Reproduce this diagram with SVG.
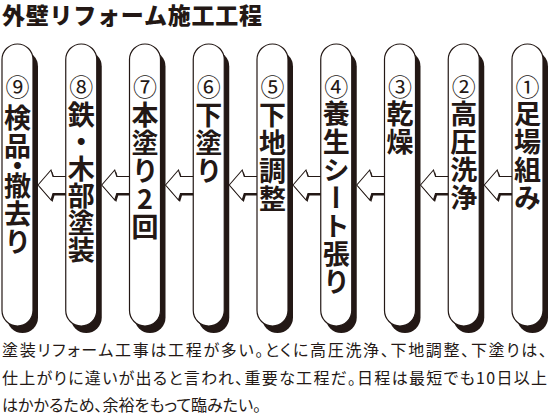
<svg xmlns="http://www.w3.org/2000/svg" xmlns:xlink="http://www.w3.org/1999/xlink" width="549" height="419" viewBox="0 0 549 419">
<style>
.bg{fill:#ffffff}
.shadow{fill:#231815}
.body{fill:#ffffff;stroke:#231815;stroke-width:1.2}
.ashadow{fill:#231815}
.abody{fill:#ffffff;stroke:#231815;stroke-width:1.1;stroke-linejoin:miter}
.num{font-family:"Noto Sans CJK JP","Noto Sans",sans-serif;font-size:24px;font-weight:400;fill:#231815;text-anchor:middle}
.lbl{font-family:"Noto Sans CJK JP","Noto Sans",sans-serif;font-size:27px;font-weight:700;fill:#231815;writing-mode:vertical-rl;text-orientation:upright;letter-spacing:1px}
.title{font-family:"Noto Sans CJK JP","Noto Sans",sans-serif;font-size:23px;font-weight:900;fill:#231815}
.cap{font-family:"Noto Sans CJK JP","Noto Sans",sans-serif;font-size:16px;font-weight:400;fill:#231815;font-feature-settings:"palt"}
</style>
<defs>
<path id="cap" d="M0,15.5 A15.5,15.5 0 0 1 31,15.5 V266.5 A15.5,15.5 0 0 1 0,266.5 Z"/>
<polygon id="arr" points="0,0 13,-15 15,-8.5 33,-8.5 33,8.5 15,8.5 13,15"/>
</defs>
<rect class="bg" x="0" y="0" width="549" height="419"/>
<text class="title" x="2" y="24" textLength="260" lengthAdjust="spacing">外壁リフォーム施工工程</text>

<g id="connectors">
<g transform="translate(38,185)"><use xlink:href="#arr" class="ashadow" transform="translate(1.5,2)"/><use xlink:href="#arr" class="abody"/></g>
<g transform="translate(101.75,185)"><use xlink:href="#arr" class="ashadow" transform="translate(1.5,2)"/><use xlink:href="#arr" class="abody"/></g>
<g transform="translate(165.5,185)"><use xlink:href="#arr" class="ashadow" transform="translate(1.5,2)"/><use xlink:href="#arr" class="abody"/></g>
<g transform="translate(229.25,185)"><use xlink:href="#arr" class="ashadow" transform="translate(1.5,2)"/><use xlink:href="#arr" class="abody"/></g>
<g transform="translate(293,185)"><use xlink:href="#arr" class="ashadow" transform="translate(1.5,2)"/><use xlink:href="#arr" class="abody"/></g>
<g transform="translate(356.75,185)"><use xlink:href="#arr" class="ashadow" transform="translate(1.5,2)"/><use xlink:href="#arr" class="abody"/></g>
<g transform="translate(420.5,185)"><use xlink:href="#arr" class="ashadow" transform="translate(1.5,2)"/><use xlink:href="#arr" class="abody"/></g>
<g transform="translate(484.25,185)"><use xlink:href="#arr" class="ashadow" transform="translate(1.5,2)"/><use xlink:href="#arr" class="abody"/></g>
</g>

<g id="step9" transform="translate(2,44)">
<use xlink:href="#cap" class="shadow" transform="translate(5,7)"/><use xlink:href="#cap" class="body"/>
<text class="num" x="15.5" y="52">⑨</text>
<text class="lbl" x="15.5" y="60">検品<tspan dy="-8">・</tspan><tspan dy="-8">撤</tspan>去り</text>
</g>
<g id="step8" transform="translate(65.75,44)">
<use xlink:href="#cap" class="shadow" transform="translate(5,7)"/><use xlink:href="#cap" class="body"/>
<text class="num" x="15.5" y="52">⑧</text>
<text class="lbl" x="15.5" y="57" style="letter-spacing:0px">鉄・木部塗装</text>
</g>
<g id="step7" transform="translate(129.5,44)">
<use xlink:href="#cap" class="shadow" transform="translate(5,7)"/><use xlink:href="#cap" class="body"/>
<text class="num" x="15.5" y="52">⑦</text>
<text class="lbl" x="15.5" y="57">本塗り2回</text>
</g>
<g id="step6" transform="translate(193.25,44)">
<use xlink:href="#cap" class="shadow" transform="translate(5,7)"/><use xlink:href="#cap" class="body"/>
<text class="num" x="15.5" y="52">⑥</text>
<text class="lbl" x="15.5" y="57">下塗り</text>
</g>
<g id="step5" transform="translate(257,44)">
<use xlink:href="#cap" class="shadow" transform="translate(5,7)"/><use xlink:href="#cap" class="body"/>
<text class="num" x="15.5" y="52">⑤</text>
<text class="lbl" x="15.5" y="57">下地調整</text>
</g>
<g id="step4" transform="translate(320.75,44)">
<use xlink:href="#cap" class="shadow" transform="translate(5,7)"/><use xlink:href="#cap" class="body"/>
<text class="num" x="15.5" y="52">④</text>
<text class="lbl" x="15.5" y="56">養生シート張り</text>
</g>
<g id="step3" transform="translate(384.5,44)">
<use xlink:href="#cap" class="shadow" transform="translate(5,7)"/><use xlink:href="#cap" class="body"/>
<text class="num" x="15.5" y="52">③</text>
<text class="lbl" x="15.5" y="56">乾燥</text>
</g>
<g id="step2" transform="translate(448.25,44)">
<use xlink:href="#cap" class="shadow" transform="translate(5,7)"/><use xlink:href="#cap" class="body"/>
<text class="num" x="15.5" y="52">②</text>
<text class="lbl" x="15.5" y="56">高圧洗浄</text>
</g>
<g id="step1" transform="translate(512,44)">
<use xlink:href="#cap" class="shadow" transform="translate(5,7)"/><use xlink:href="#cap" class="body"/>
<text class="num" x="15.5" y="52">①</text>
<text class="lbl" x="15.5" y="56">足場組み</text>
</g>

<text class="cap" x="2" y="356" textLength="545" lengthAdjust="spacing">塗装リフォーム工事は工程が多い。とくに高圧洗浄、下地調整、下塗りは、</text>
<text class="cap" x="2" y="384" textLength="545" lengthAdjust="spacing">仕上がりに違いが出ると言われ、重要な工程だ。日程は最短でも10日以上</text>
<text class="cap" x="2" y="411">はかかるため、余裕をもって臨みたい。</text>
</svg>
